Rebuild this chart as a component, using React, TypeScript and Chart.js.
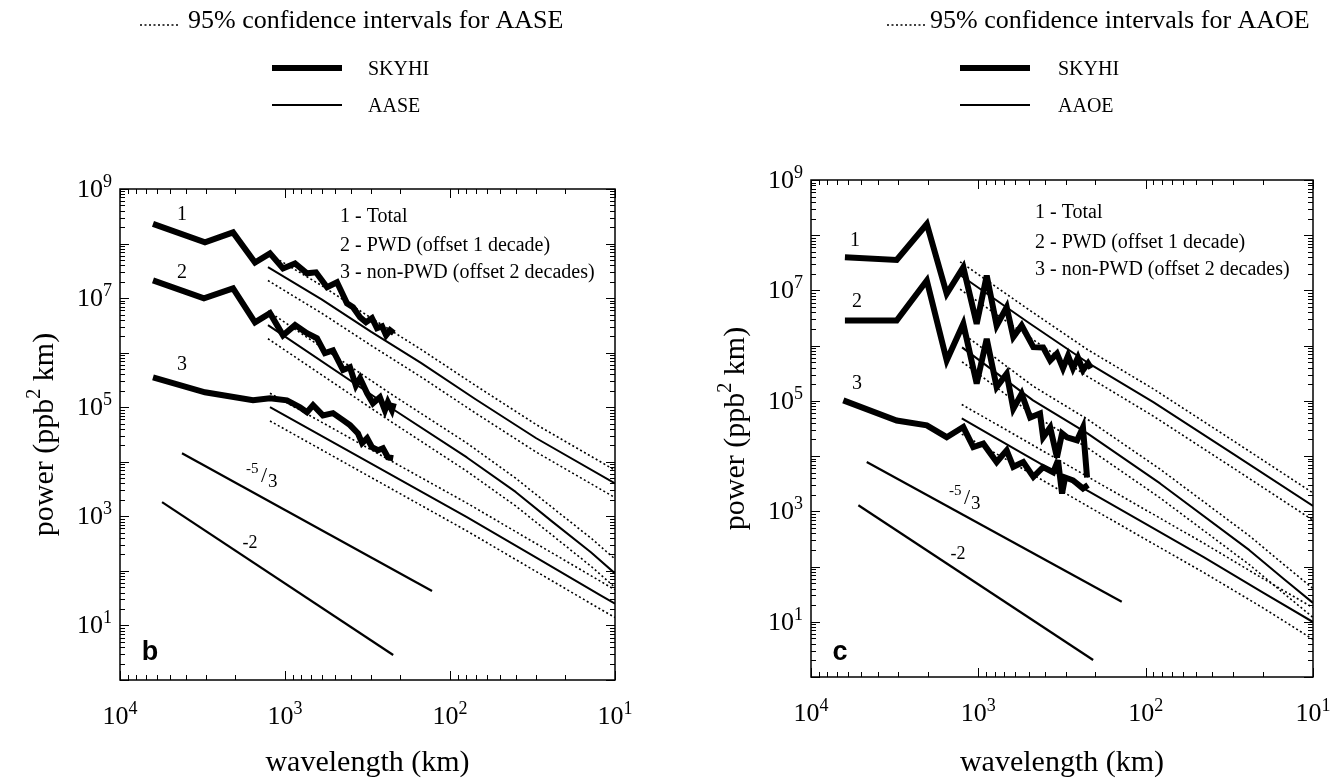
import { useEffect, useRef } from "react";
import { Chart, registerables } from "chart.js";

Chart.register(...registerables);

const SERIF = '"Liberation Serif", "Times New Roman", Times, serif';
const SANS = '"Liberation Sans", Arial, Helvetica, sans-serif';

// ---------- shared axes ----------
const xTickExponents = [4, 3, 2, 1];
const yTickExponents = [9, 7, 5, 3, 1];
const X_MIN = 10;
const X_MAX = 10000;
const Y_MIN = 1;
const Y_MAX = 1e9;
const keyLines = ["1 - Total", "2 - PWD (offset 1 decade)", "3 - non-PWD (offset 2 decades)"];

// ---------- panel b (AASE) ----------
const bSky1Wl = [6310, 3055, 2065, 1520, 1233, 1028, 869, 736, 649, 556, 484, 421, 387, 351, 323, 297, 277, 258, 244, 231, 219];
const bSky1P = [2.3e8, 1.05e8, 1.6e8, 4.5e7, 6.6e7, 3.5e7, 4.3e7, 2.85e7, 2.97e7, 1.58e7, 1.95e7, 8.0e6, 6.8e6, 4.45e6, 3.6e6, 4.3e6, 2.8e6, 3.05e6, 2.08e6, 2.57e6, 2.27e6];
const bSky2Wl = [6310, 3100, 2065, 1520, 1233, 1028, 869, 736, 640, 573, 512, 445, 404, 372, 351, 318, 293, 266, 248, 238, 225, 219];
const bSky2P = [2.12e7, 9.9e6, 1.51e7, 3.6e6, 5.3e6, 2.08e6, 3.2e6, 2.27e6, 1.84e6, 9.8e5, 1.1e6, 4.8e5, 5.4e5, 2.5e5, 3.4e5, 1.8e5, 1.18e5, 1.52e5, 8.8e4, 1.24e5, 8.8e4, 1.18e5];
const bSky3Wl = [6310, 3055, 1563, 1233, 973, 811, 736, 676, 589, 512, 445, 404, 361, 341, 318, 297, 273, 255, 238, 221];
const bSky3P = [3.54e5, 1.88e5, 1.34e5, 1.46e5, 1.34e5, 1.0e5, 8.1e4, 1.09e5, 7.1e4, 7.8e4, 5.8e4, 4.7e4, 3.3e4, 2.2e4, 2.7e4, 1.85e4, 1.63e4, 1.77e4, 1.21e4, 1.16e4];

const bObs1Wl = [1268, 600, 300, 150, 70, 30, 10];
const bObs1P = [3.7e7, 9.5e6, 2.4e6, 6.5e5, 1.4e5, 2.7e4, 4.0e3];
const bObs1Hi = [6.6e7, 1.7e7, 4.3e6, 1.15e6, 2.5e5, 4.8e4, 7.0e3];
const bObs1Lo = [2.1e7, 5.3e6, 1.35e6, 3.6e5, 7.8e4, 1.5e4, 2.2e3];
const bObs2Wl = [1268, 231, 79, 40, 24, 14, 10];
const bObs2P = [3.2e6, 1.0e5, 1.2e4, 2.8e3, 800, 220, 90];
const bObs2Hi = [5.8e6, 1.8e5, 2.2e4, 5.0e3, 1450, 400, 165];
const bObs2Lo = [1.8e6, 5.6e4, 6.7e3, 1550, 450, 122, 50];
const bObs3Wl = [1233, 351, 79, 30, 12.3, 10];
const bObs3P = [1.0e5, 1.2e4, 970, 175, 36, 25];
const bObs3Hi = [1.8e5, 2.15e4, 1750, 315, 65, 45];
const bObs3Lo = [5.6e4, 6.7e3, 540, 97, 20, 14];

const bRef53Wl = [4210, 128.5];
const bRef53P = [1.436e4, 42.7];
const bRef2Wl = [5560, 221];
const bRef2P = [1820, 2.87];

// ---------- panel c (AAOE) ----------
const cSky1Wl = [6270, 3076, 2032, 1545, 1230, 1023, 891, 777, 677, 618, 551, 469, 410, 372, 339, 312, 291, 272, 254, 237, 221, 212];
const cSky1P = [3.98e7, 3.57e7, 1.6e8, 8.7e6, 2.63e7, 2.49e6, 1.86e7, 2.32e6, 4.97e6, 1.43e6, 2.32e6, 9.4e5, 9.3e5, 5.4e5, 7.2e5, 3.9e5, 6.6e5, 3.9e5, 6.1e5, 3.6e5, 4.8e5, 3.9e5];
const cSky2Wl = [6270, 3076, 2032, 1545, 1230, 1023, 891, 777, 677, 618, 551, 490, 428, 410, 372, 339, 316, 295, 257, 237, 224];
const cSky2P = [2.86e6, 2.86e6, 1.51e7, 5.4e5, 2.49e6, 2.05e5, 1.33e6, 1.78e5, 3.1e5, 7.2e4, 1.35e5, 5.0e4, 5.9e4, 2.19e4, 3.3e4, 9.5e3, 2.58e4, 2.19e4, 1.93e4, 3.3e4, 4.1e3];
const cSky3Wl = [6410, 3076, 2032, 1545, 1230, 1072, 934, 777, 677, 618, 539, 469, 410, 357, 334, 316, 303, 272, 237, 221];
const cSky3P = [1.02e5, 4.4e4, 3.6e4, 2.2e4, 3.36e4, 1.46e4, 1.68e4, 7.8e3, 1.27e4, 6.4e3, 7.8e3, 4.2e3, 6.3e3, 5.1e3, 8.4e3, 2.1e3, 4.1e3, 3.65e3, 2.6e3, 3.0e3];

const cObs1Wl = [1285, 500, 224, 90, 30, 10];
const cObs1P = [1.9e7, 2.6e6, 5.0e5, 9.5e4, 1.1e4, 1250];
const cObs1Hi = [3.3e7, 4.5e6, 8.6e5, 1.65e5, 1.9e4, 2150];
const cObs1Lo = [1.05e7, 1.45e6, 2.8e5, 5.3e4, 6.1e3, 690];
const cObs2Wl = [1251, 471, 224, 82, 24, 15, 10];
const cObs2P = [9.3e5, 1.02e5, 2.6e4, 3.2e3, 198, 60, 22];
const cObs2Hi = [1.7e6, 1.85e5, 4.7e4, 5.8e3, 360, 110, 40];
const cObs2Lo = [5.1e5, 5.6e4, 1.43e4, 1750, 108, 33, 12];
const cObs3Wl = [1256, 600, 224, 100, 45, 20, 10];
const cObs3P = [4.8e4, 1.33e4, 2.4e3, 590, 148, 34, 9.9];
const cObs3Hi = [8.6e4, 2.4e4, 4.3e3, 1060, 265, 61, 18];
const cObs3Lo = [2.5e4, 7.0e3, 1260, 310, 78, 18, 4.8];

const cRef53Wl = [4645, 139];
const cRef53P = [7.8e3, 23];
const cRef2Wl = [5210, 206];
const cRef2P = [1290, 2.03];

type Kind = "skyhi" | "obs" | "ci" | "ref";
type Series = { wl: number[]; p: number[]; kind: Kind };
type Anchor = { wl: number; p: number };
type Panel = {
  obsName: string;
  letter: string;
  series: Series[];
  curveLabels: (Anchor & { t: string })[];
  keyAt: Anchor[];
  slope53At: Anchor;
  slope2At: Anchor;
  letterAt: Anchor;
  canvasLeft: number;
  canvasWidth: number;
  padding: { left: number; right: number; top: number; bottom: number };
  yTitleX: number;
  legend: { dot: [number, number]; textX: number; line: [number, number]; labelX: number; titleY: number; row1Y: number; row2Y: number };
};

const panelB: Panel = {
  obsName: "AASE",
  letter: "b",
  series: [
    { wl: bObs1Wl, p: bObs1Hi, kind: "ci" },
    { wl: bObs1Wl, p: bObs1Lo, kind: "ci" },
    { wl: bObs2Wl, p: bObs2Hi, kind: "ci" },
    { wl: bObs2Wl, p: bObs2Lo, kind: "ci" },
    { wl: bObs3Wl, p: bObs3Hi, kind: "ci" },
    { wl: bObs3Wl, p: bObs3Lo, kind: "ci" },
    { wl: bObs1Wl, p: bObs1P, kind: "obs" },
    { wl: bObs2Wl, p: bObs2P, kind: "obs" },
    { wl: bObs3Wl, p: bObs3P, kind: "obs" },
    { wl: bRef53Wl, p: bRef53P, kind: "ref" },
    { wl: bRef2Wl, p: bRef2P, kind: "ref" },
    { wl: bSky1Wl, p: bSky1P, kind: "skyhi" },
    { wl: bSky2Wl, p: bSky2P, kind: "skyhi" },
    { wl: bSky3Wl, p: bSky3P, kind: "skyhi" },
  ],
  curveLabels: [
    { t: "1", wl: 4207, p: 3.57e8 },
    { t: "2", wl: 4207, p: 3.2e7 },
    { t: "3", wl: 4207, p: 6.4e5 },
  ],
  keyAt: [
    { wl: 464, p: 3.3e8 },
    { wl: 464, p: 1.0e8 },
    { wl: 464, p: 3.2e7 },
  ],
  slope53At: { wl: 1419, p: 5.7e3 },
  slope2At: { wl: 1629, p: 337 },
  letterAt: { wl: 6580, p: 3.5 },
  canvasLeft: 0,
  canvasWidth: 670,
  padding: { left: 120, right: 55, top: 189, bottom: 102 },
  yTitleX: 44,
  legend: { dot: [140, 180], textX: 188, line: [272, 342], labelX: 368, titleY: 28, row1Y: 68, row2Y: 105 },
};

const panelC: Panel = {
  obsName: "AAOE",
  letter: "c",
  series: [
    { wl: cObs1Wl, p: cObs1Hi, kind: "ci" },
    { wl: cObs1Wl, p: cObs1Lo, kind: "ci" },
    { wl: cObs2Wl, p: cObs2Hi, kind: "ci" },
    { wl: cObs2Wl, p: cObs2Lo, kind: "ci" },
    { wl: cObs3Wl, p: cObs3Hi, kind: "ci" },
    { wl: cObs3Wl, p: cObs3Lo, kind: "ci" },
    { wl: cObs1Wl, p: cObs1P, kind: "obs" },
    { wl: cObs2Wl, p: cObs2P, kind: "obs" },
    { wl: cObs3Wl, p: cObs3P, kind: "obs" },
    { wl: cRef53Wl, p: cRef53P, kind: "ref" },
    { wl: cRef2Wl, p: cRef2P, kind: "ref" },
    { wl: cSky1Wl, p: cSky1P, kind: "skyhi" },
    { wl: cSky2Wl, p: cSky2P, kind: "skyhi" },
    { wl: cSky3Wl, p: cSky3P, kind: "skyhi" },
  ],
  curveLabels: [
    { t: "1", wl: 5456, p: 8.7e7 },
    { t: "2", wl: 5305, p: 6.6e6 },
    { t: "3", wl: 5305, p: 2.16e5 },
  ],
  keyAt: [
    { wl: 458, p: 2.8e8 },
    { wl: 458, p: 8.0e7 },
    { wl: 458, p: 2.5e7 },
  ],
  slope53At: { wl: 1233, p: 1.8e3 },
  slope2At: { wl: 1321, p: 175 },
  letterAt: { wl: 6710, p: 3.1 },
  canvasLeft: 670,
  canvasWidth: 669,
  padding: { left: 141, right: 26, top: 180, bottom: 105 },
  yTitleX: 65,
  legend: { dot: [217, 255], textX: 260, line: [290, 360], labelX: 388, titleY: 28, row1Y: 68, row2Y: 105 },
};

const STYLE: Record<Kind, any> = {
  skyhi: { borderWidth: 6, borderDash: [], borderJoinStyle: "miter" },
  obs: { borderWidth: 2, borderDash: [], borderJoinStyle: "round" },
  ci: { borderWidth: 1.6, borderDash: [2, 2.5], borderJoinStyle: "round" },
  ref: { borderWidth: 2.2, borderDash: [], borderJoinStyle: "round" },
};

function pow10(ctx: CanvasRenderingContext2D, exp: number, x: number, y: number, align: "right" | "center") {
  ctx.font = `26px ${SERIF}`;
  const bw = ctx.measureText("10").width;
  ctx.font = `18px ${SERIF}`;
  const ew = ctx.measureText(String(exp)).width;
  const w = bw + ew;
  const x0 = align === "right" ? x - w : x - w / 2;
  ctx.textAlign = "left";
  ctx.textBaseline = "alphabetic";
  ctx.font = `26px ${SERIF}`;
  ctx.fillText("10", x0, y);
  ctx.font = `18px ${SERIF}`;
  ctx.fillText(String(exp), x0 + bw, y - 10);
}

function makeDecor(pn: Panel) {
  return {
    id: "decor",
    beforeDatasetsDraw(chart: any) {
      chart.ctx.miterLimit = 4;
    },
    afterDraw(chart: any) {
      const ctx: CanvasRenderingContext2D = chart.ctx;
      const a = chart.chartArea;
      const xs = chart.scales.x;
      const ys = chart.scales.y;
      const X = (v: number) => xs.getPixelForValue(v);
      const Y = (v: number) => ys.getPixelForValue(v);
      ctx.save();
      ctx.fillStyle = "#000";
      ctx.strokeStyle = "#000";

      // inward ticks on all four sides
      ctx.lineWidth = 1;
      ctx.beginPath();
      for (let e = 1; e <= 4; e++) {
        for (let k = 1; k <= 9; k++) {
          const v = k * Math.pow(10, e);
          if (v > X_MAX) break;
          const px = Math.round(X(v)) + 0.5;
          const len = k === 1 ? 9 : 5;
          ctx.moveTo(px, a.bottom);
          ctx.lineTo(px, a.bottom - len);
          ctx.moveTo(px, a.top);
          ctx.lineTo(px, a.top + len);
        }
      }
      for (let e = 0; e <= 9; e++) {
        for (let k = 1; k <= 9; k++) {
          const v = k * Math.pow(10, e);
          if (v > Y_MAX) break;
          const py = Math.round(Y(v)) + 0.5;
          const len = k === 1 ? 9 : 5;
          ctx.moveTo(a.left, py);
          ctx.lineTo(a.left + len, py);
          ctx.moveTo(a.right, py);
          ctx.lineTo(a.right - len, py);
        }
      }
      ctx.stroke();
      ctx.lineWidth = 1.5;
      ctx.strokeRect(a.left, a.top, a.right - a.left, a.bottom - a.top);

      // tick labels
      for (const e of yTickExponents) pow10(ctx, e, a.left - 8, Y(Math.pow(10, e)) + 8, "right");
      for (const e of xTickExponents) pow10(ctx, e, X(Math.pow(10, e)), a.bottom + 44, "center");

      // axis titles
      ctx.textBaseline = "alphabetic";
      ctx.font = `30px ${SERIF}`;
      ctx.textAlign = "center";
      ctx.fillText("wavelength (km)", (a.left + a.right) / 2, 771);

      ctx.save();
      ctx.translate(pn.yTitleX, (a.top + a.bottom) / 2);
      ctx.rotate(-Math.PI / 2);
      ctx.textAlign = "left";
      ctx.font = `30px ${SERIF}`;
      const w1 = ctx.measureText("power (ppb").width;
      const w3 = ctx.measureText(" km)").width;
      ctx.font = `20px ${SERIF}`;
      const w2 = ctx.measureText("2").width;
      const x0 = -(w1 + w2 + w3) / 2;
      ctx.font = `30px ${SERIF}`;
      ctx.fillText("power (ppb", x0, 9);
      ctx.font = `20px ${SERIF}`;
      ctx.fillText("2", x0 + w1, -4);
      ctx.font = `30px ${SERIF}`;
      ctx.fillText(" km)", x0 + w1 + w2, 9);
      ctx.restore();

      // in-plot key
      ctx.font = `20px ${SERIF}`;
      ctx.textAlign = "left";
      keyLines.forEach((t, i) => {
        const k = pn.keyAt[i];
        ctx.fillText(t, X(k.wl), Y(k.p) + 7);
      });
      ctx.textAlign = "center";
      for (const c of pn.curveLabels) ctx.fillText(c.t, X(c.wl), Y(c.p) + 7);

      // slope labels
      {
        const sx = X(pn.slope53At.wl);
        const sy = Y(pn.slope53At.p);
        ctx.textAlign = "left";
        ctx.font = `15px ${SERIF}`;
        ctx.fillText("-5", sx - 14, sy - 2);
        ctx.font = `22px ${SERIF}`;
        ctx.fillText("/", sx + 1, sy + 7);
        ctx.font = `19px ${SERIF}`;
        ctx.fillText("3", sx + 8, sy + 12);
        ctx.font = `18px ${SERIF}`;
        ctx.textAlign = "center";
        ctx.fillText("-2", X(pn.slope2At.wl), Y(pn.slope2At.p) + 6);
      }

      // panel letter
      ctx.font = `bold 27px ${SANS}`;
      ctx.textAlign = "center";
      ctx.fillText(pn.letter, X(pn.letterAt.wl), Y(pn.letterAt.p) + 10);

      // top legend
      const L = pn.legend;
      ctx.textAlign = "left";
      ctx.font = `26px ${SERIF}`;
      ctx.fillText(`95% confidence intervals for ${pn.obsName}`, L.textX, L.titleY);
      ctx.lineWidth = 1.6;
      ctx.setLineDash([2, 2.5]);
      ctx.beginPath();
      ctx.moveTo(L.dot[0], L.titleY - 3);
      ctx.lineTo(L.dot[1], L.titleY - 3);
      ctx.stroke();
      ctx.setLineDash([]);
      ctx.lineWidth = 6;
      ctx.beginPath();
      ctx.moveTo(L.line[0], L.row1Y);
      ctx.lineTo(L.line[1], L.row1Y);
      ctx.stroke();
      ctx.lineWidth = 2;
      ctx.beginPath();
      ctx.moveTo(L.line[0], L.row2Y);
      ctx.lineTo(L.line[1], L.row2Y);
      ctx.stroke();
      ctx.font = `20px ${SERIF}`;
      ctx.fillText("SKYHI", L.labelX, L.row1Y + 7);
      ctx.fillText(pn.obsName, L.labelX, L.row2Y + 7);

      ctx.restore();
    },
  };
}

function PanelChart({ pn }: { pn: Panel }) {
  const ref = useRef<HTMLCanvasElement>(null);
  useEffect(() => {
    const canvas = ref.current;
    if (!canvas) return;
    const datasets = pn.series.map((s) => ({
      data: s.wl.map((w, i) => ({ x: w, y: s.p[i] })),
      borderColor: "#000",
      backgroundColor: "#000",
      pointRadius: 0,
      fill: false,
      tension: 0,
      borderCapStyle: "butt",
      ...STYLE[s.kind],
    }));
    const chart = new Chart(canvas, {
      type: "line",
      data: { datasets: datasets as any },
      options: {
        animation: false,
        responsive: false,
        devicePixelRatio: 1,
        events: [],
        layout: { padding: pn.padding },
        scales: {
          x: { type: "logarithmic", min: X_MIN, max: X_MAX, reverse: true, display: false },
          y: { type: "logarithmic", min: Y_MIN, max: Y_MAX, display: false },
        },
        plugins: { legend: { display: false }, tooltip: { enabled: false }, title: { display: false } },
      },
      plugins: [makeDecor(pn)],
    } as any);
    return () => chart.destroy();
  }, [pn]);
  return (
    <canvas
      ref={ref}
      width={pn.canvasWidth}
      height={782}
      style={{ position: "absolute", left: pn.canvasLeft, top: 0, width: pn.canvasWidth, height: 782 }}
    />
  );
}

export default function App() {
  return (
    <div style={{ position: "absolute", left: 0, top: 0, width: 1339, height: 782, background: "#fff", overflow: "hidden" }}>
      <PanelChart pn={panelB} />
      <PanelChart pn={panelC} />
    </div>
  );
}
